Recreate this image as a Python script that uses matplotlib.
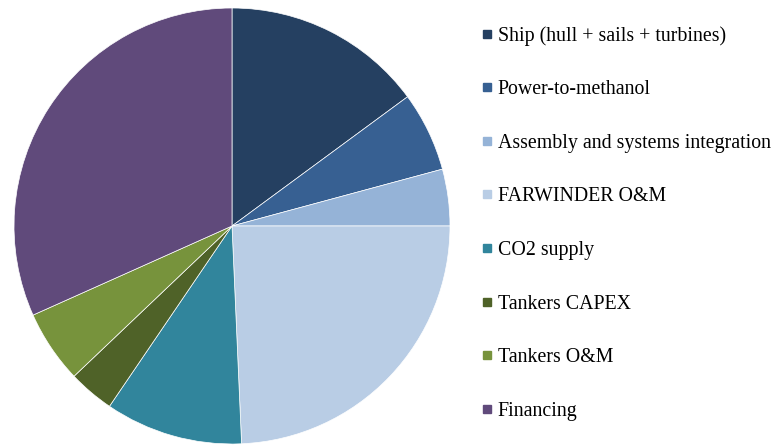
import matplotlib.pyplot as plt
from matplotlib.lines import Line2D

# cost breakdown (share of total, %)
labels = ["Ship (hull + sails + turbines)", "Power-to-methanol",
          "Assembly and systems integration", "FARWINDER O&M",
          "CO2 supply", "Tankers CAPEX", "Tankers O&M", "Financing"]
shares = [14.9, 5.9, 4.2, 24.3, 10.2, 3.4, 5.4, 31.7]
colors = ["#254061", "#376092", "#95B3D7", "#B9CDE5",
          "#31859C", "#4F6228", "#77933C", "#604A7B"]

plt.rcParams['font.family'] = ['Liberation Serif', 'DejaVu Serif']

fig = plt.figure(figsize=(7.76, 4.46), dpi=100)
W, H = 776, 446
cx, cy, r = 232, 226, 218
ax = fig.add_axes([(cx - r) / W, (H - cy - r) / H, 2 * r / W, 2 * r / H])
ax.pie(shares, colors=colors, startangle=90, counterclock=False,
       wedgeprops=dict(edgecolor="white", linewidth=0.5))
ax.set_xlim(-1, 1)
ax.set_ylim(-1, 1)
ax.set_aspect("equal")

handles = [Line2D([], [], linestyle="none", marker="s", markersize=6,
                  markerfacecolor=c, markeredgecolor=c) for c in colors]
fig.legend(handles, labels, loc="upper left",
           bbox_to_anchor=(482 / W, 1 - 26 / H), frameon=False,
           fontsize=14.3, handlelength=0.5, handletextpad=0.3,
           labelspacing=1.74, borderaxespad=0, borderpad=0)

fig.savefig("out.png", dpi=100)
